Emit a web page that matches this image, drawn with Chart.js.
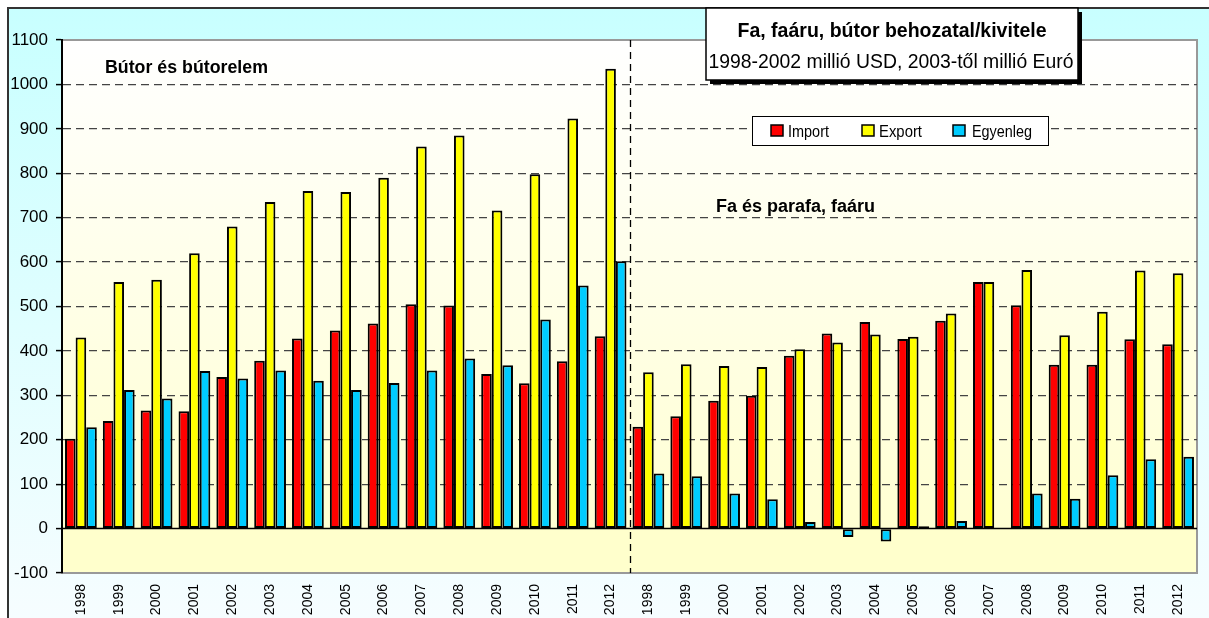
<!DOCTYPE html>
<html>
<head>
<meta charset="utf-8">
<script src="https://cdn.jsdelivr.net/npm/chart.js@4"></script>
<style>
  html, body { margin: 0; padding: 0; background: #fff; }
  #wrap { width: 1209px; height: 618px; }
</style>
</head>
<body>
<div id="wrap"><canvas id="chart1" width="1209" height="618"></canvas></div>
<script>
// két csoport: bútor és bútorelem, majd fa és parafa, faáru
const years = ['1998', '1999', '2000', '2001', '2002', '2003', '2004', '2005',
    '2006', '2007', '2008', '2009', '2010', '2011', '2012'];
const labels = years.concat(years);

const importBut = [202, 242, 266, 264, 341, 378, 428, 446, 462, 505, 502, 348, 327, 377, 433];
const exportBut = [430, 555, 560, 620, 680, 735, 760, 758, 790, 860, 885, 716, 798, 923, 1035];
const egyenBut = [228, 312, 293, 355, 338, 356, 333, 312, 328, 356, 383, 368, 471, 547, 602];

const importFa = [229, 253, 288, 299, 389, 439, 465, 427, 468, 555, 503, 369, 369, 426, 415];
const exportFa = [352, 370, 366, 364, 404, 419, 437, 432, 484, 555, 582, 435, 488, 581, 575];
const egyenFa = [124, 118, 79, 66, 15, -19, -29, 5, 17, 0, 79, 67, 120, 156, 162];

const yTicks = [-100, 0, 100, 200, 300, 400, 500, 600, 700, 800, 900, 1000, 1100];

const bgPlugin = {
    id: 'bgPlugin',
    beforeDraw(chart) {
        const ctx = chart.ctx;
        const area = chart.chartArea;
        const y0 = chart.scales.y.getPixelForValue(0);
        ctx.save();
        ctx.fillStyle = '#fff';
        ctx.fillRect(0, 0, chart.width, chart.height);
        // külső keret
        let g = ctx.createLinearGradient(0, 8, 0, chart.height);
        g.addColorStop(0, '#c8ffff');
        g.addColorStop(1, '#f6fdff');
        ctx.fillStyle = g;
        ctx.fillRect(8, 8, chart.width - 8, chart.height - 8);
        ctx.strokeStyle = '#333';
        ctx.lineWidth = 2;
        ctx.beginPath();
        ctx.moveTo(8, chart.height);
        ctx.lineTo(8, 8);
        ctx.lineTo(chart.width, 8);
        ctx.stroke();
        // rajzterület
        g = ctx.createLinearGradient(0, area.top, 0, y0);
        g.addColorStop(0, '#ffffff');
        g.addColorStop(1, '#ffffd2');
        ctx.fillStyle = g;
        ctx.fillRect(area.left, area.top, area.right - area.left, y0 - area.top);
        ctx.fillStyle = '#ffffcc';
        ctx.fillRect(area.left, y0, area.right - area.left, area.bottom - y0);
        ctx.strokeStyle = '#999';
        ctx.lineWidth = 2;
        ctx.beginPath();
        ctx.moveTo(area.left, area.top);
        ctx.lineTo(area.right, area.top);
        ctx.lineTo(area.right, area.bottom);
        ctx.stroke();
        ctx.restore();
    },
    afterDatasetsDraw(chart) {
        const ctx = chart.ctx;
        const area = chart.chartArea;
        const xs = chart.scales.x;
        const ys = chart.scales.y;
        ctx.save();
        // nulla vonal
        ctx.strokeStyle = '#000';
        ctx.lineWidth = 1.5;
        ctx.beginPath();
        ctx.moveTo(area.left, ys.getPixelForValue(0));
        ctx.lineTo(area.right, ys.getPixelForValue(0));
        ctx.stroke();
        // elválasztó
        const xm = Math.round(xs.getPixelForValue(14.5)) + 0.5;
        ctx.setLineDash([7, 5]);
        ctx.lineWidth = 1.3;
        ctx.beginPath();
        ctx.moveTo(xm, area.top);
        ctx.lineTo(xm, area.bottom);
        ctx.stroke();
        ctx.setLineDash([]);

        ctx.fillStyle = '#000';
        ctx.textBaseline = 'alphabetic';
        ctx.textAlign = 'left';
        ctx.font = 'bold 18px "Liberation Sans", Arial';
        ctx.fillText('Bútor és bútorelem', 105, 73, 163);
        ctx.fillText('Fa és parafa, faáru', 716, 212, 173);

        // cím doboz
        ctx.fillStyle = '#000';
        ctx.fillRect(710, 12, 372, 72);
        ctx.fillStyle = '#fff';
        ctx.fillRect(706, 8, 372, 72);
        ctx.strokeStyle = '#000';
        ctx.lineWidth = 1.5;
        ctx.strokeRect(706, 8, 372, 72);
        ctx.fillStyle = '#000';
        ctx.textAlign = 'center';
        ctx.font = 'bold 20px "Liberation Sans", Arial';
        ctx.fillText('Fa, faáru, bútor behozatal/kivitele', 892, 37, 309);
        ctx.font = '20px "Liberation Sans", Arial';
        ctx.fillText('1998-2002 millió USD, 2003-től millió Euró', 891, 68, 365);

        // jelmagyarázat
        ctx.fillStyle = '#fff';
        ctx.fillRect(752, 116, 296, 29);
        ctx.strokeStyle = '#000';
        ctx.lineWidth = 1;
        ctx.strokeRect(752.5, 116.5, 296, 29);
        const leg = [[771, 788, 41], [862, 879, 43], [953, 972, 60]];
        chart.data.datasets.forEach((ds, i) => {
            const [sx, tx, tw] = leg[i];
            ctx.fillStyle = ds.backgroundColor;
            ctx.fillRect(sx, 125, 12, 11);
            ctx.strokeStyle = '#000';
            ctx.lineWidth = 1.5;
            ctx.strokeRect(sx, 125, 12, 11);
            ctx.fillStyle = '#000';
            ctx.textAlign = 'left';
            ctx.font = '17px "Liberation Sans", Arial';
            ctx.fillText(ds.label, tx, 137, tw);
        });
        ctx.restore();
    }
};

new Chart(document.getElementById('chart1'), {
    type: 'bar',
    data: {
        labels: labels,
        datasets: [{
            label: 'Import',
            data: importBut.concat(importFa),
            backgroundColor: '#ff0000'
        }, {
            label: 'Export',
            data: exportBut.concat(exportFa),
            backgroundColor: '#ffff00'
        }, {
            label: 'Egyenleg',
            data: egyenBut.concat(egyenFa),
            backgroundColor: '#00ccff'
        }]
    },
    options: {
        responsive: false,
        animation: false,
        layout: {
            padding: { left: 0, top: 40, right: 12, bottom: 0 }
        },
        datasets: {
            bar: {
                borderColor: '#000',
                borderWidth: 2,
                borderSkipped: false,
                categoryPercentage: 0.84,
                barPercentage: 1
            }
        },
        plugins: {
            legend: { display: false },
            tooltip: { enabled: false }
        },
        scales: {
            x: {
                afterFit: (s) => { s.height = 45; },
                grid: { display: false },
                border: { display: true, color: '#999', width: 2 },
                ticks: {
                    autoSkip: false,
                    minRotation: 90,
                    maxRotation: 90,
                    padding: 3,
                    color: '#000',
                    font: { family: '"Liberation Sans", Arial', size: 14 }
                }
            },
            y: {
                min: -100,
                max: 1100,
                afterFit: (s) => { s.width = 62; },
                afterBuildTicks: (s) => { s.ticks = yTicks.map(v => ({ value: v })); },
                grid: {
                    color: (c) => (c.tick && (c.tick.value === 1100 || c.tick.value === -100 || c.tick.value === 0)) ? 'rgba(0,0,0,0)' : '#444',
                    lineWidth: 1.2,
                    tickLength: 6,
                    tickColor: '#000',
                    tickWidth: 1.5
                },
                border: {
                    display: true,
                    color: '#000',
                    width: 2,
                    dash: [8, 5]
                },
                ticks: {
                    padding: 8,
                    color: '#000',
                    callback: (v) => String(v),
                    font: { family: '"Liberation Sans", Arial', size: 17 }
                }
            }
        }
    },
    plugins: [bgPlugin]
});
</script>
</body>
</html>
